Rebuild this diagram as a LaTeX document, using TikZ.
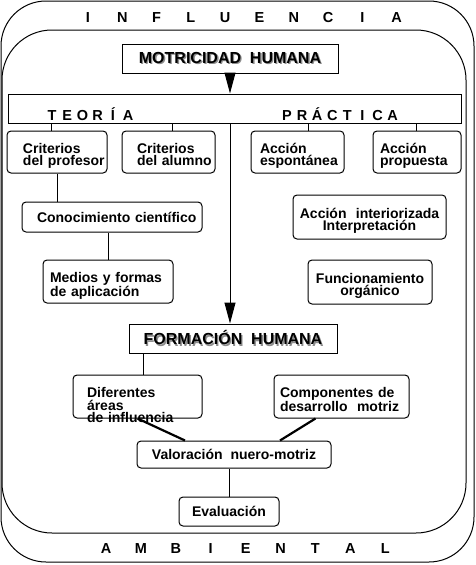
\documentclass[tikz,border=0pt]{standalone}
\usepackage{fontspec}
\setmainfont{Liberation Sans}
\usepackage{xcolor}
\usetikzlibrary{arrows.meta}
\hyphenpenalty=10000
\exhyphenpenalty=10000
\hbadness=10000
\hfuzz=100pt
\newcommand\shadowed[1]{\rlap{\kern1.3pt\raisebox{-1.3pt}{\textcolor{black!45}{#1}}}#1}

\begin{document}
\begin{tikzpicture}[x=1pt,y=-1pt,>={Triangle[width=11pt,length=21pt]},
  rbox/.style={draw,rounded corners=4pt,line width=1pt,inner sep=0pt,align=left,
    font=\bfseries\fontsize{14}{12.5}\selectfont},
  twoline/.style={text height=10pt,text depth=8pt},
  sbox/.style={draw,line width=1pt,inner sep=0pt,font=\bfseries\fontsize{16}{18}\selectfont},
  spaced/.style={anchor=base,font=\bfseries\fontsize{14.5}{16}\selectfont},
  link/.style={line width=1pt},
  heavy/.style={line width=2.2pt}]
\useasboundingbox (0,0) rectangle (475,565);
% frames
\draw[line width=1pt,rounded corners=45pt] (1,1) rectangle (474,562);
\draw[line width=1pt,rounded corners=50pt] (2,30) rectangle (466,533);
\foreach \ch [count=\i] in {I,N,F,L,U,E,N,C,I,A}
  \node[spaced] (inf\i) at (88+34.3*\i-34.3,22) {\ch};
\foreach \ch [count=\i] in {A,M,B,I,E,N,T,A,L}
  \node[spaced] (amb\i) at (106+34.9*\i-34.9,553) {\ch};

% top
\node[sbox,minimum width=216pt,minimum height=29pt] (mot) at (230,58.5) {\shadowed{MOTRICIDAD\ \ HUMANA}};
\node[draw,line width=1pt,minimum width=453pt,minimum height=29pt,inner sep=0pt] (tp) at (234.5,108.5) {};
\foreach \ch [count=\i] in {T,E,O,R,Í,A}
  \node[spaced] (teo\i) at (52+15.2*\i-15.2,120) {\ch};
\foreach \ch [count=\i] in {P,R,Á,C,T,I,C,A}
  \node[spaced] (pra\i) at (287+15.1*\i-15.1,120) {\ch};

% teoria / practica
\node[rbox,twoline,minimum width=100pt,minimum height=42pt,text width=68pt] (prof) at (57,152) {Criterios\\del~profesor};
\node[rbox,twoline,minimum width=93pt,minimum height=42pt,text width=63pt] (alum) at (168.5,152) {Criterios\\del~alumno};
\node[rbox,twoline,minimum width=93pt,minimum height=42pt,text width=75pt] (espo) at (297.5,152) {Acción\\espontánea};
\node[rbox,twoline,minimum width=88pt,minimum height=42pt,text width=74pt] (prop) at (417,152) {Acción\\propuesta};
\node[rbox,minimum width=180pt,minimum height=30pt,text width=150pt] (cono) at (112,217) {Conocimiento~científico};
\node[rbox,twoline,minimum width=130pt,minimum height=43pt,text width=116pt] (medi) at (108,281.5) {Medios~y~formas\\de~aplicación};
\node[rbox,twoline,align=center,minimum width=153pt,minimum height=44pt,text width=150pt] (inte) at (369.5,217) {Acción~~interiorizada\\Interpretación};
\node[rbox,twoline,align=center,minimum width=124pt,minimum height=44pt,text width=120pt] (func) at (370,282) {Funcionamiento\\orgánico};

% formacion
\node[sbox,minimum width=208pt,minimum height=29pt] (form) at (233,338.5) {\shadowed{FORMACIÓN\ \ HUMANA}};
\node[rbox,twoline,minimum width=129pt,minimum height=43pt,text width=101pt] (dife) at (137.5,396.5) {Diferentes\\áreas\\de~influencia};
\node[rbox,twoline,minimum width=135pt,minimum height=43pt,text width=123pt] (comp) at (341.5,396.5) {Componentes~de\\desarrollo~~motriz};
\node[rbox,minimum width=194pt,minimum height=27pt] (valo) at (234,454.5) {Valoración\ \ nuero-motriz};
\node[rbox,minimum width=100pt,minimum height=29pt] (eval) at (229,511.5) {Evaluación};

% connectors
\draw[link,->] (mot.south) -- (mot.south |- tp.north);
\foreach \b/\s in {prof/-6,alum/3.5,espo/10.5,prop/-1}
  \draw[link] ([xshift=\s pt]\b.north) -- ([xshift=\s pt]\b.north |- tp.south);
\draw[link] (prof.south) -- (prof.south |- cono.north);
\draw[link] (medi.north) -- (medi.north |- cono.south);
\draw[link,->] (mot.south |- tp.south) -- (mot.south |- form.north);
\draw[link] ([xshift=5.5pt]dife.north) -- ([xshift=5.5pt]dife.north |- form.south);
\draw[heavy] (dife.south) -- ([xshift=-49pt]valo.north);
\draw[heavy] ([xshift=-26pt]comp.south) -- ([xshift=46pt]valo.north);
\draw[link] (eval.north) -- (eval.north |- valo.south);
\end{tikzpicture}
\end{document}
